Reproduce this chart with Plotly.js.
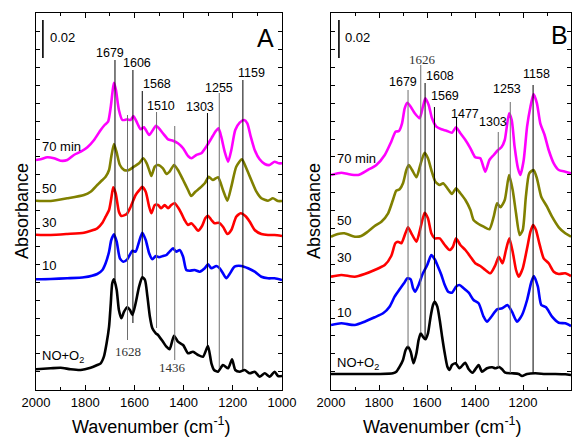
<!DOCTYPE html>
<html><head><meta charset="utf-8">
<script src="https://cdn.plot.ly/plotly-3.0.1.min.js"></script>
<style>html,body{margin:0;padding:0;background:#fff}#chart{width:585px;height:438px}</style>
</head><body><div id="chart"></div>
<script>
// ---------- Panel A spectra (wavenumber, offset absorbance in a.u.) ----------
const A_NO_X  = [2000,1940,1900,1859,1818,1778,1751,1737,1724,1713,1703,1696,1690,1683,1672,1663,1653,1642,1629,1618,1608,1595,1581,1568,1557,1547,1537,1527,1513,1504,1484,1470,1457,1439,1423,1402,1382,1362,1341,1321,1301,1287,1276,1260,1240,1219,1203,1190,1172,1152,1131,1111,1091,1070,1050,1030,1016,1000];
const A_NO_Y  = [21.7,22.7,23.3,21.7,21,23.3,26,27.7,34.3,47.7,64.3,87.7,107.7,111.7,101,81,72.7,79.3,83.7,81,76,87.7,104.3,113.7,111,94.3,74.3,62.7,57.7,56,49.3,44.3,41.7,55.3,49.3,46,37.7,39.3,36,34.3,45,27.7,21,19.3,26,22.7,31.7,21,19.3,21,17.7,19.3,14.3,17.7,14.3,19.3,15,15];
const A_10_X  = [2000,1940,1873,1805,1751,1730,1717,1703,1694,1683,1672,1659,1645,1629,1608,1595,1581,1568,1554,1540,1527,1513,1500,1484,1470,1457,1443,1430,1416,1402,1389,1375,1355,1335,1314,1301,1287,1267,1253,1240,1226,1213,1193,1165,1138,1111,1084,1057,1030,1000];
const A_10_Y  = [111.7,112,112.7,113.7,117,121,127.7,139.3,151,156.7,149.3,132.7,129.3,131.7,140.3,139.3,149.3,158.3,151,137.7,131.7,135,133.7,135,136,139.3,142.7,139.3,141,134.3,121,120.3,121,119.3,122.7,126.7,122.7,125,122.7,117.7,112.7,117,124.3,125,122.7,119.3,114.3,112.7,112.7,111];
const A_30_X  = [2000,1940,1873,1805,1751,1730,1717,1703,1694,1686,1676,1663,1653,1631,1615,1595,1577,1568,1554,1540,1531,1517,1504,1491,1477,1463,1450,1436,1423,1409,1396,1382,1369,1355,1341,1325,1312,1301,1287,1274,1257,1240,1222,1206,1186,1168,1149,1131,1111,1084,1057,1030,1000];
const A_30_Y  = [156.3,156,157,158.3,162.7,168.3,174.3,181,192.7,203.7,197.7,179.3,175,177,184.3,196,201.7,204.3,199.3,184.3,177.7,186,186,182.7,186,182.7,186,187.7,183.7,177.7,171,166,167.7,164.3,160.3,165,172.7,175.3,171,167.7,168.3,164.3,157,161,174.3,177.7,175,169.3,161,157,156,156,155];
const A_50_X  = [2000,1940,1873,1805,1778,1751,1730,1717,1703,1694,1683,1672,1659,1642,1622,1602,1581,1564,1550,1540,1531,1517,1504,1484,1470,1457,1439,1423,1402,1382,1369,1352,1335,1314,1298,1281,1260,1240,1222,1206,1186,1163,1145,1125,1104,1084,1057,1037,1016,1000];
const A_50_Y  = [190.3,190,192.7,196,199.3,206,211,214.3,221,234.3,247,238.3,226,221,221,224.3,227.7,232.7,227.7,221,215,224.3,226,222.7,217,219.3,226,221,211,201,195,199.3,202.7,207.7,214.3,211,213.7,201,190.3,204.3,224.3,231.7,222.7,211,199.3,192.7,190.3,192.7,190,190];
const A_70_X  = [2000,1981,1954,1927,1900,1873,1846,1818,1791,1764,1737,1721,1707,1696,1688,1683,1675,1663,1649,1629,1615,1604,1588,1575,1561,1540,1512,1500,1484,1463,1443,1423,1402,1382,1368,1348,1328,1308,1287,1271,1258,1247,1233,1219,1206,1190,1172,1154,1141,1127,1111,1091,1070,1050,1030,1013,1000];
const A_70_Y  = [231,231.7,233.7,232.7,230.3,231,236,239.3,243.7,251,261,266,269.3,284.3,301,308.3,301,281,271,271.7,271,275,267.7,261.7,263.7,256,265.3,262.7,257.7,251.7,250.3,247.7,242.7,235,232.7,236,237.7,244.3,252.7,259.3,262.7,254.3,239.3,229.3,241,261,268.3,271,267.7,254.3,241,231.7,227,226,229.3,227.7,227.7];

// ---------- Panel B spectra ----------
const B_NO_X  = [2000,1900,1800,1742,1728,1714,1700,1689,1679,1668,1656,1644,1635,1626,1617,1607,1596,1585,1575,1568,1557,1547,1537,1526,1515,1506,1496,1481,1465,1441,1426,1410,1385,1371,1350,1328,1316,1299,1287,1274,1246,1218,1204,1183,1149,1107,1065,1024,1000];
const B_NO_Y  = [17,17,17,17.7,19.3,24.3,31,41,44.3,39.3,27.7,37.7,51,57.7,54.3,51.7,57.7,74.3,86,89.3,84.3,71,54.3,37.7,24.3,21,26,27.7,22.7,28.3,21.7,18.3,26,19.3,22.7,23.7,22.7,24,21.7,18.3,17.7,17,15,17,17.7,17,17,16.7,16];
const B_10_X  = [2000,1957,1901,1860,1818,1783,1756,1735,1714,1696,1682,1668,1658,1649,1635,1617,1599,1582,1568,1554,1540,1526,1512,1496,1479,1465,1447,1426,1406,1385,1364,1350,1332,1308,1287,1265,1246,1225,1204,1183,1165,1155,1138,1124,1104,1079,1051,1024,1000];
const B_10_Y  = [66,67.7,66,69.3,73.7,77.7,84.3,94.3,101.7,107.7,112.7,111.7,102.7,99.3,106,117.7,126,136,131.7,124.3,116,106,99.3,98.3,104.3,106,102.7,98.3,91,87.7,74.3,69.3,74.3,81.7,82.7,86,79.3,69.3,76,91,109.3,115,104.3,86,83.7,74.3,68.3,67.7,65];
const B_30_X  = [2000,1957,1901,1860,1818,1776,1749,1732,1721,1707,1690,1679,1665,1644,1626,1610,1596,1582,1568,1547,1526,1506,1492,1479,1461,1440,1419,1399,1378,1357,1336,1315,1301,1285,1271,1257,1243,1229,1218,1201,1183,1169,1158,1146,1132,1114,1093,1072,1051,1024,1000];
const B_30_Y  = [114.3,116,114.3,117,121,126,135,147.7,149.3,147.7,157.7,163.7,157.7,149.3,164.3,178.3,172.7,157.7,152.7,152.7,146,141,144.3,152.7,146,141,134.3,127.7,125,121,117.7,126,134.3,127.7,141,152.7,139.3,121,114.3,122.7,142.7,159.3,166,161,147.7,132.7,127.7,119.3,117,117.7,115];
const B_50_X  = [2000,1971,1944,1901,1874,1847,1818,1790,1762,1742,1728,1714,1700,1686,1676,1662,1644,1626,1610,1596,1582,1565,1547,1533,1515,1496,1479,1461,1440,1419,1406,1385,1364,1340,1322,1308,1294,1276,1258,1243,1229,1214,1201,1188,1174,1156,1142,1124,1100,1079,1051,1024,1000];
const B_50_Y  = [154.3,157,157.7,154.3,155,159.3,165,169.3,177.7,191,200.3,201.7,207.7,221,226,221,213.7,227.7,238.3,232.7,221,209.3,206,207.7,202.7,197,202.7,197.7,191,181,171,167,164.3,161.7,174.3,187.7,183.7,191,216,201,177.7,156,161,194.3,217.7,221,212.7,194.3,184.3,174.3,163.7,157.7,154.3];
const B_70_X  = [2000,1957,1929,1887,1847,1811,1776,1749,1731,1717,1704,1693,1682,1668,1651,1631,1617,1607,1593,1579,1561,1540,1519,1496,1479,1461,1440,1419,1399,1378,1357,1340,1322,1304,1290,1276,1258,1247,1235,1221,1211,1197,1183,1169,1156,1142,1128,1110,1093,1072,1051,1024,1000];
const B_70_Y  = [216,218.3,217,216,221,226,236,249.3,259.3,260,267.7,282.7,288.3,284.3,277.7,272.7,284.3,292.7,286,272.7,264.3,261.7,260.3,258.3,263.7,257.7,251,242.7,233.7,232.7,219.3,231,236,241,243.7,251,277.7,271,244.3,222.7,216,231,264.3,284.3,297,287.7,267.7,256,241,227.7,221,219.3,217.7];

// ---------- labels / markers ----------
const X_TICKS = [2000,1800,1600,1400,1200,1000];
const SERIES_NAMES = ['NO+O<sub>2</sub>','10','30','50','70 min'];
const SERIES_COLORS = ['#000000','#0000ff','#ff0000','#808000','#ff00ff'];

const PEAKS_A     = [1679,1628,1606,1568,1510,1436,1303,1255,1159];
const PEAK_TOP_A  = [331,276,321,300,279,265,278,298,311];
const PEAK_BOT_A  = [111,51,68,112,63,31,44,23,20];
const PEAK_GRAY_A = [0,1,0,0,1,1,0,1,0];
const LBL_A       = ['1679','1606','1568','1510','1303','1255','1159'];
const LBL_A_X     = [1700,1589,1508,1492,1333,1258,1126];
const LBL_A_Y     = [338,328,307,285,283.5,303,318];
const SLBL_A      = ['1628','1436'];
const SLBL_A_X    = [1628,1447];
const SLBL_A_Y    = [39.5,24];
const NAME_A_Y    = [35,126,169,203,245];

const PEAKS_B     = [1679,1626,1608,1569,1477,1303,1253,1158];
const PEAK_TOP_B  = [301,326,308,284,274,259,289,306];
const PEAK_BOT_B  = [44,58,53,89,28,24,18,18];
const PEAK_GRAY_B = [1,1,0,0,0,1,1,0];
const LBL_B       = ['1679','1608','1569','1477','1303','1253','1158'];
const LBL_B_X     = [1700,1546,1525,1442,1325,1267,1142];
const LBL_B_Y     = [309,315,295,277,268.5,301.5,317];
const SLBL_B      = ['1626'];
const SLBL_B_X    = [1617];
const SLBL_B_Y    = [331];
const NAME_B_Y    = [28,79,134,171,233];

const SANS = 'Arial, "Liberation Sans", sans-serif';
const SERIF = '"Times New Roman", "Liberation Serif", serif';

const seriesA = [[A_NO_X,A_NO_Y],[A_10_X,A_10_Y],[A_30_X,A_30_Y],[A_50_X,A_50_Y],[A_70_X,A_70_Y]];
const seriesB = [[B_NO_X,B_NO_Y],[B_10_X,B_10_Y],[B_30_X,B_30_Y],[B_50_X,B_50_Y],[B_70_X,B_70_Y]];

const traces = [];
function addSeries(list, xa, ya){
  list.forEach((s,i)=>{
    traces.push({x:s[0], y:s[1], xaxis:xa, yaxis:ya, type:'scatter', mode:'lines',
      line:{color:SERIES_COLORS[i], width:2.6, shape:'spline', smoothing:0.6}, hoverinfo:'skip'});
  });
}
addSeries(seriesA,'x','y');
addSeries(seriesB,'x2','y2');

const shapes = [];
const annotations = [];
function addPanel(xr, yr, peaks, tops, bots, gray, lbl, lx, ly, slbl, sx, sy, nameY, nameX, letter, letterX, letterY, barX, barTxtX){
  peaks.forEach((p,i)=>{
    shapes.push({type:'line', xref:xr, yref:yr, x0:p, x1:p, y0:bots[i], y1:tops[i],
      line:{color: gray[i] ? '#6e6e6e' : '#000000', width:1}, layer:'above'});
  });
  lbl.forEach((t,i)=>annotations.push({xref:xr, yref:yr, x:lx[i], y:ly[i], text:t, showarrow:false,
    font:{family:SANS, size:12.5, color:'#000'}, xanchor:'center', yanchor:'middle'}));
  slbl.forEach((t,i)=>annotations.push({xref:xr, yref:yr, x:sx[i], y:sy[i], text:t, showarrow:false,
    font:{family:SERIF, size:13, color:'#333'}, xanchor:'center', yanchor:'middle'}));
  SERIES_NAMES.forEach((t,i)=>annotations.push({xref:xr, yref:yr, x:nameX, y:nameY[i], text:t, showarrow:false,
    font:{family:SANS, size:13, color:'#000'}, xanchor:'left', yanchor:'middle'}));
  annotations.push({xref:xr, yref:yr, x:letterX, y:letterY, text:letter, showarrow:false,
    font:{family:SANS, size:25, color:'#000'}, xanchor:'center', yanchor:'middle'});
  // 0.02 absorbance scale bar
  shapes.push({type:'line', xref:xr, yref:yr, x0:barX, x1:barX, y0:333, y1:371, line:{color:'#000', width:1.6}});
  annotations.push({xref:xr, yref:yr, x:barTxtX, y:353, text:'0.02', showarrow:false,
    font:{family:SANS, size:13, color:'#000'}, xanchor:'left', yanchor:'middle'});
}
addPanel('x','y',PEAKS_A,PEAK_TOP_A,PEAK_BOT_A,PEAK_GRAY_A,LBL_A,LBL_A_X,LBL_A_Y,SLBL_A,SLBL_A_X,SLBL_A_Y,NAME_A_Y,1984,'A',1069,353,1972,1951);
addPanel('x2','y2',PEAKS_B,PEAK_TOP_B,PEAK_BOT_B,PEAK_GRAY_B,LBL_B,LBL_B_X,LBL_B_Y,SLBL_B,SLBL_B_X,SLBL_B_Y,NAME_B_Y,1983,'B',1046,356,1967,1950);

// axis titles
[22/585, 314/585].forEach(px=>annotations.push({xref:'paper', yref:'paper', x:px, y:1-211/438,
  text:'Absorbance', textangle:-90, showarrow:false, font:{family:SANS, size:18, color:'#000'}, xanchor:'center', yanchor:'middle'}));
[151/585, 442/585].forEach(px=>annotations.push({xref:'paper', yref:'paper', x:px, y:1-425/438,
  text:'Wavenumber (cm<sup>-1</sup>)', showarrow:false, font:{family:SANS, size:18, color:'#000'}, xanchor:'center', yanchor:'middle'}));

function xax(dom){
  return {domain:dom, range:[2000,1000], tickmode:'array', tickvals:X_TICKS, ticktext:X_TICKS.map(String),
    ticks:'inside', ticklen:5, tickwidth:1, tickcolor:'#000',
    minor:{dtick:100, tick0:0, ticks:'inside', ticklen:3, tickcolor:'#000', showgrid:false},
    showline:true, linecolor:'#000', linewidth:1, mirror:'ticks', showgrid:false, zeroline:false,
    tickfont:{family:SANS, size:13, color:'#000'}, fixedrange:true};
}
function yax(anchor){
  return {domain:[1-390/438, 1-13/438], range:[1,378], anchor:anchor, tick0:19.3, dtick:17.9,
    ticks:'inside', ticklen:4, tickwidth:1, tickcolor:'#000', showticklabels:false,
    showline:true, linecolor:'#000', linewidth:1, mirror:'ticks', showgrid:false, zeroline:false, fixedrange:true};
}

const layout = {
  width:585, height:438, margin:{l:0,r:0,t:0,b:0}, showlegend:false,
  paper_bgcolor:'#fff', plot_bgcolor:'#fff',
  xaxis: Object.assign(xax([36/585, 282/585]), {anchor:'y'}),
  yaxis: yax('x'),
  xaxis2: Object.assign(xax([331/585, 571/585]), {anchor:'y2'}),
  yaxis2: yax('x2'),
  shapes: shapes, annotations: annotations
};
Plotly.newPlot('chart', traces, layout, {staticPlot:true, displayModeBar:false});
</script></body></html>
